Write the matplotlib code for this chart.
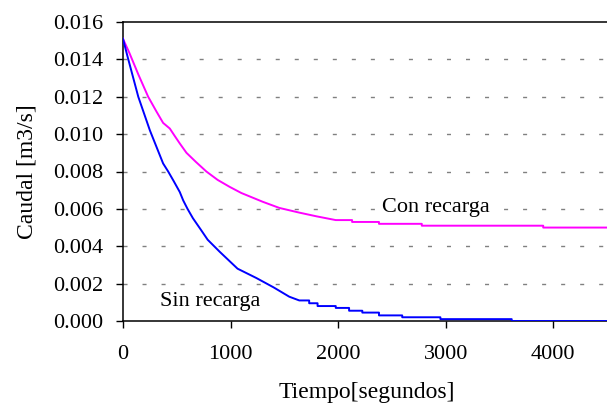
import numpy as np
import matplotlib
matplotlib.use("Agg")
import matplotlib.pyplot as plt

# tiempo [s] y caudal [m3/s]
t_con = [0, 59, 142, 234, 312, 373, 435, 481, 528, 590, 680, 775, 880, 991, 1100,
         1299, 1454, 1639, 1800, 1978, 2130, 2130, 2380, 2380, 2778, 2778,
         3907, 3907, 4500]
q_con = [0.0151, 0.01435, 0.0132, 0.0120, 0.0112, 0.0106, 0.0103, 0.0099, 0.0095,
         0.0090, 0.0085, 0.0080, 0.00755, 0.00718, 0.00685, 0.00638, 0.00605,
         0.0058, 0.0056, 0.0054, 0.0054, 0.0053, 0.0053, 0.0052, 0.0052, 0.0051,
         0.0051, 0.0050, 0.0050]

t_sin = [0, 40, 142, 250, 373, 420, 470, 528, 560, 600, 650, 728, 787, 900, 1065,
         1240, 1400, 1546, 1639, 1731, 1731, 1809, 1809, 1978, 1978, 2102, 2102,
         2225, 2225, 2380, 2380, 2596, 2596, 2951, 2951, 3614, 3614, 4500]
q_sin = [0.0151, 0.0142, 0.0120, 0.0102, 0.00843, 0.0080, 0.0075, 0.0069, 0.00645,
         0.0060, 0.0055, 0.00485, 0.00435, 0.0037, 0.0028, 0.0023, 0.0018, 0.0013,
         0.0011, 0.0011, 0.00095, 0.00095, 0.0008, 0.0008, 0.0007, 0.0007,
         0.00055, 0.00055, 0.00045, 0.00045, 0.0003, 0.0003, 0.0002, 0.0002,
         0.0001, 0.0001, 0.0, 0.0]

x_ticks = [0, 1000, 2000, 3000, 4000]
y_ticks = [0.000, 0.002, 0.004, 0.006, 0.008, 0.010, 0.012, 0.014, 0.016]

plt.rcParams['font.family'] = ['Liberation Serif', 'DejaVu Serif']
plt.rcParams['font.size'] = 16

fig = plt.figure(figsize=(6.07, 4.07), dpi=100)
ax = fig.add_axes([123 / 607, 86 / 407, 484 / 607, 299 / 407])

# lineas de division punteadas
for y in y_ticks[1:-1]:
    ax.axhline(y, color='#808080', lw=1.0, linestyle=(0, (2.9, 10.8)), zorder=1)

ax.plot(t_con, q_con, color='#FF00FF', lw=1.4, zorder=3)
ax.plot(t_sin, q_sin, color='#0000FF', lw=1.4, zorder=3)

ax.text(2407, 0.00605, 'Con recarga', ha='left', va='center', zorder=2,
        bbox=dict(facecolor='white', edgecolor='none', pad=1))
ax.text(343, 0.00102, 'Sin recarga', ha='left', va='center', zorder=2)

ax.set_xlim(0, 4500)
ax.set_ylim(0, 0.016)
ax.set_xticks(x_ticks)
ax.set_yticks(y_ticks)
ax.set_yticklabels(['%.3f' % v for v in y_ticks])

for s in ['top', 'left', 'bottom']:
    ax.spines[s].set_linewidth(1.1)
    ax.spines[s].set_color('black')
ax.spines['right'].set_visible(False)
ax.tick_params(direction='out', length=5, width=1, colors='black')
ax.tick_params(axis='x', pad=12)
ax.tick_params(axis='y', pad=9)

ax.set_xlabel('Tiempo[segundos]', fontsize=17)
ax.set_ylabel('Caudal [m3/s]', fontsize=17)
ax.xaxis.set_label_coords(0.504, -0.205)
ax.yaxis.set_label_coords(-0.176, 0.5)

fig.savefig('out.png', dpi=100)
